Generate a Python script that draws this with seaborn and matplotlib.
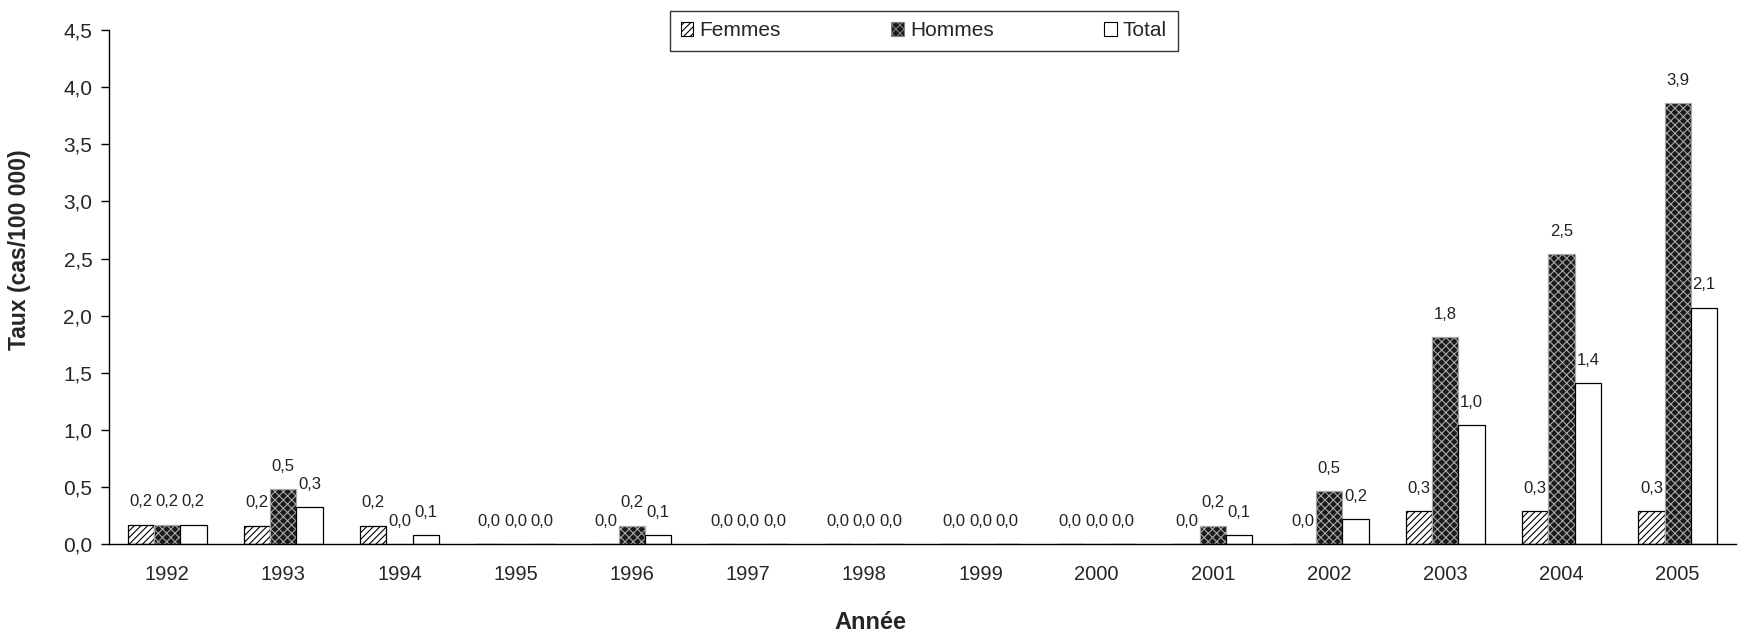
import numpy as np
import pandas as pd
import matplotlib
matplotlib.use('Agg')
import matplotlib.pyplot as plt
from matplotlib.patches import Patch
import seaborn as sns

# data
years = ['1992', '1993', '1994', '1995', '1996', '1997', '1998',
         '1999', '2000', '2001', '2002', '2003', '2004', '2005']
femmes = [0.17, 0.16, 0.16, 0.0, 0.0, 0.0, 0.0, 0.0, 0.0, 0.0, 0.0, 0.29, 0.29, 0.29]
hommes = [0.17, 0.48, 0.0, 0.0, 0.16, 0.0, 0.0, 0.0, 0.0, 0.16, 0.46, 1.81, 2.54, 3.86]
total = [0.17, 0.32, 0.08, 0.0, 0.08, 0.0, 0.0, 0.0, 0.0, 0.08, 0.22, 1.04, 1.41, 2.07]
series = ['Femmes', 'Hommes', 'Total']

df = pd.DataFrame({'annee': years, 'Femmes': femmes, 'Hommes': hommes, 'Total': total})
df = df.melt(id_vars='annee', var_name='sexe', value_name='taux')

sns.set_style('white')
plt.rcParams['font.family'] = ['Liberation Sans', 'DejaVu Sans']
plt.rcParams['hatch.linewidth'] = 0.8

fig = plt.figure(figsize=(17.4, 6.31), dpi=100)
ax = fig.add_axes([0.0626, 0.138, 0.935, 0.814])

sns.barplot(data=df, x='annee', y='taux', hue='sexe', hue_order=series,
            order=years, width=0.68, ax=ax, legend=False)

styles = {
    'Femmes': dict(facecolor='white', edgecolor='black', hatch='/////'),
    'Hommes': dict(facecolor='#1a1a1a', edgecolor='#a8a8a8', hatch='xxxx'),
    'Total': dict(facecolor='white', edgecolor='black', hatch=None),
}
for cont, s in zip(ax.containers, series):
    for p in cont:
        p.set_facecolor(styles[s]['facecolor'])
        p.set_edgecolor(styles[s]['edgecolor'])
        p.set_hatch(styles[s]['hatch'])
        p.set_linewidth(0.9)
    labels = [f'{v:.1f}'.replace('.', ',') for v in cont.datavalues]
    ax.bar_label(cont, labels=labels, padding=11, fontsize=12, color='#222222')

ax.set_ylim(0, 4.5)
ax.set_xlim(-0.5, len(years) - 0.5)
yt = np.arange(0, 4.51, 0.5)
ax.set_yticks(yt)
ax.set_yticklabels([f'{t:.1f}'.replace('.', ',') for t in yt], fontsize=15)
ax.set_xticks(range(len(years)))
ax.set_xticklabels(years, fontsize=14.5)
ax.set_xticks(np.arange(0.5, len(years) - 0.5, 1), minor=True)
ax.tick_params(axis='x', which='major', length=0, pad=15)
ax.tick_params(axis='x', which='minor', length=6, width=1, color='black', direction='out')
ax.tick_params(axis='y', length=6, width=1, color='black', direction='out', left=True, pad=6)

for side in ['top', 'right']:
    ax.spines[side].set_visible(False)
for side in ['left', 'bottom']:
    ax.spines[side].set_color('black')
    ax.spines[side].set_linewidth(1)

ax.set_xlabel('Année', fontsize=17, fontweight='bold')
ax.xaxis.set_label_coords(0.468, -0.13)
ax.set_ylabel('Taux (cas/100 000)', fontsize=16.5, fontweight='bold')
ax.yaxis.set_label_coords(-0.048, 0.572)

handles = [Patch(facecolor=styles[s]['facecolor'],
                 edgecolor=styles[s]['edgecolor'] if s != 'Hommes' else '#808080',
                 hatch=styles[s]['hatch'], linewidth=0.8) for s in series]
leg = fig.legend(handles, series, loc='center', bbox_to_anchor=(0.531, 0.951), ncol=3,
                 fontsize=15, frameon=True, fancybox=False, edgecolor='black',
                 handlelength=0.6, handleheight=0.6, handletextpad=0.3,
                 columnspacing=5.3, borderpad=0.5, borderaxespad=0)
leg.get_frame().set_linewidth(1)

fig.savefig('out.png', dpi=100)
